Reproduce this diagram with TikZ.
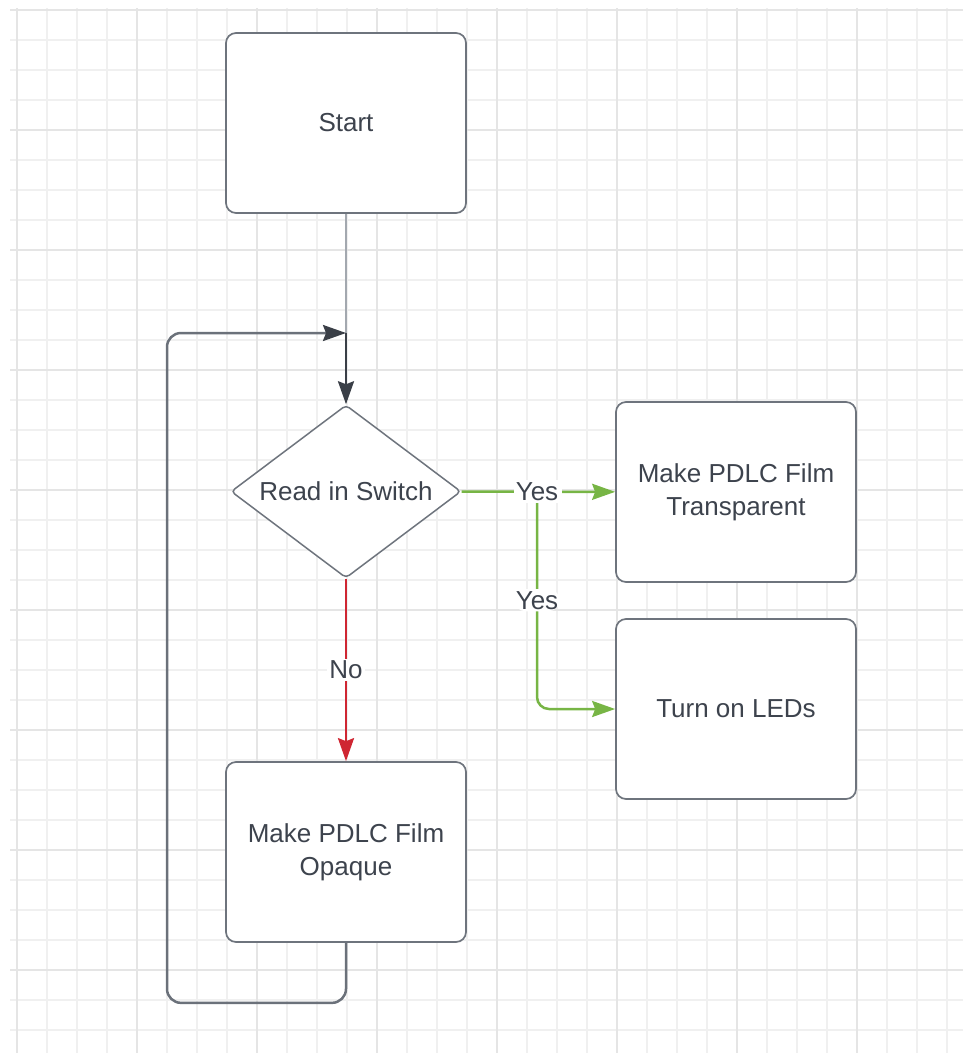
\documentclass[tikz,border=0pt]{standalone}
\usepackage{fontspec}
\setmainfont{Liberation Sans}
\usepackage{xcolor}
\usetikzlibrary{shapes.geometric}
\usetikzlibrary{arrows.meta}
\definecolor{txtgray}{HTML}{3D434D}
\definecolor{boxgray}{HTML}{6E747D}
\definecolor{gridminor}{HTML}{F0F0F0}
\definecolor{gridmajor}{HTML}{E5E5E5}
\definecolor{startgray}{HTML}{A3A8AF}
\definecolor{loopgray}{HTML}{6B717A}
\definecolor{arrowdark}{HTML}{3A3F47}
\definecolor{yesgreen}{HTML}{77B545}
\definecolor{nored}{HTML}{CF2632}
\newcommand\chartfont{\fontsize{26}{33}\selectfont}

\begin{document}
\begin{tikzpicture}[x=1pt,y=-1pt,
  box/.style={draw=boxgray,line width=1.7pt,rounded corners=10pt,fill=white,
    minimum width=240pt,minimum height=180pt,align=center,text=txtgray,font=\chartfont},
  decision/.style={diamond,aspect=1.33,draw=boxgray,line width=1.5pt,rounded corners=4pt,fill=white,
    inner sep=0pt,minimum width=230pt,minimum height=173pt,text=txtgray,font=\chartfont},
  lbl/.style={fill=white,inner sep=2pt,text=txtgray,font=\chartfont},
  tip/.style={-{Stealth[length=23pt,width=16pt,inset=3pt,#1]}},
  conn/.style={line width=2.5pt}]
   \useasboundingbox (0,0) rectangle (963,1053);
   % grid paper
   \foreach \i in {0,...,31} \draw[gridminor,line width=1.6pt] (17+30*\i,8) -- (17+30*\i,1053);
   \foreach \j in {0,...,34} \draw[gridminor,line width=1.6pt] (10,10+30*\j) -- (963,10+30*\j);
   \foreach \i in {0,4,...,28} \draw[gridmajor,line width=1.6pt] (17+30*\i,8) -- (17+30*\i,1053);
   \foreach \j in {0,4,...,32} \draw[gridmajor,line width=1.6pt] (10,10+30*\j) -- (963,10+30*\j);
   % blocks
   \node[box] (start) at (346,123) {Start};
   \node[decision] (switch) at (346,491.5) {Read in Switch};
   \node[box] (transp) at (736,492) {Make PDLC Film\\Transparent};
   \node[box] (leds) at (736,709) {Turn on LEDs};
   \node[box] (opaque) at (346,852) {Make PDLC Film\\Opaque};
   \coordinate (join) at (346,333);
   \coordinate (split) at (537,491.5);
   % connectors
   \draw[conn,startgray] (start) -- (join);
   \draw[conn,arrowdark,tip=arrowdark] (join) -- (switch);
   \draw[conn,yesgreen,tip=yesgreen] (switch) -- node[lbl] {Yes} (transp);
   \draw[conn,yesgreen,tip=yesgreen,rounded corners=12pt] (split) |- node[lbl,pos=0.25] {Yes} (leds);
   \node[lbl] at (split) {Yes};
   \draw[conn,nored,tip=nored] (switch) -- node[lbl] {No} (opaque);
   \draw[conn,loopgray,tip=arrowdark,rounded corners=14pt] (opaque.south) -- ++(0,60) -- ++(-179,0) |- (join);
\end{tikzpicture}
\end{document}
